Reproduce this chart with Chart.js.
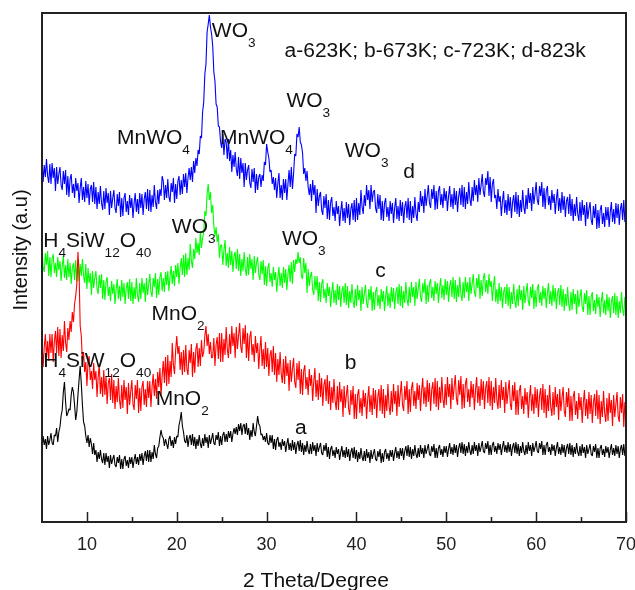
<!DOCTYPE html>
<html>
<head>
<meta charset="utf-8">
<script src="https://cdn.jsdelivr.net/npm/chart.js@4/dist/chart.umd.min.js"></script>
<style>
  body { margin: 0; background: #fff; }
  canvas { display: block; }
</style>
</head>
<body>
<canvas id="xrdChart" width="635" height="590"></canvas>
<script>
// scan: 5-70 deg, 0.125 deg step
const twoThetaStart = 5;
const twoThetaStep = 0.125;

// intensities (arbitrary units), one row = 1 degree
const sampleA = [
  74,86,77,83,73,86,77,82,
  89,79,77,87,86,94,80,90,
  95,106,112,130,140,120,106,109,
  113,112,127,135,130,117,102,110,
  127,142,156,138,117,100,96,86,
  79,87,75,84,78,68,79,67,
  72,60,70,63,72,63,59,69,
  57,69,60,66,54,67,58,63,
  67,57,55,65,59,67,53,63,
  53,63,66,56,62,54,65,58,
  65,54,62,68,58,65,57,68,
  61,69,57,66,71,61,72,60,
  72,60,70,63,77,68,64,74,
  76,85,92,86,84,76,83,78,
  73,83,86,76,82,74,85,78,
  86,85,97,102,110,96,90,81,
  79,87,75,84,87,77,88,76,
  85,73,83,76,87,78,74,84,
  76,88,79,85,74,87,78,83,
  89,79,77,87,82,90,76,86,
  77,87,90,80,88,80,91,84,
  91,80,88,94,88,95,87,98,
  91,99,87,96,98,88,99,87,
  94,82,92,85,99,90,86,96,
  106,98,96,87,88,82,86,80,
  89,79,77,87,79,87,73,83,
  72,82,85,75,80,72,83,76,
  81,70,78,84,72,79,71,82,
  72,80,68,77,81,71,82,70,
  79,67,77,70,81,72,68,78,
  68,80,71,77,66,79,70,75,
  79,69,67,77,71,79,65,75,
  63,73,76,66,72,64,75,68,
  73,62,70,76,65,72,64,75,
  65,73,61,70,74,64,75,63,
  72,60,70,63,74,65,61,71,
  61,73,64,70,59,72,63,68,
  73,63,61,71,65,73,59,69,
  60,70,73,63,69,61,72,65,
  72,61,69,75,64,71,63,74,
  66,74,62,71,76,66,77,65,
  75,63,73,66,77,68,64,74,
  65,77,68,74,64,77,68,73,
  78,68,66,76,70,78,64,74,
  64,74,77,67,73,65,76,69,
  76,65,73,79,68,75,67,78,
  69,77,65,74,79,69,80,68,
  78,66,76,69,80,71,67,77,
  68,80,71,77,66,79,70,75,
  81,71,69,79,73,81,67,77,
  67,77,80,70,76,68,79,72,
  78,67,75,81,70,77,69,80,
  70,78,66,75,79,69,80,68,
  78,66,76,69,80,71,67,77,
  68,80,71,77,66,79,70,75,
  81,71,69,79,73,81,67,77,
  67,77,80,70,75,67,78,71,
  77,66,74,80,68,75,67,78,
  69,77,65,74,78,68,79,67,
  77,65,75,68,79,70,66,76,
  66,78,69,75,64,77,68,73,
  78,68,66,76,70,78,64,74,
  64,74,77,67,73,65,76,69,
  75,64,72,78,67,74,66,77,
  68,76,64,73,77,67,78,66,
  70
];
const sampleB = [
  181,155,175,188,164,181,161,188,
  169,188,160,181,191,169,195,166,
  193,164,187,171,201,179,170,194,
  182,201,190,210,200,218,226,238,
  270,250,196,186,160,170,150,160,
  136,160,166,142,151,133,159,142,
  151,125,145,158,128,145,125,152,
  127,146,118,139,144,122,148,119,
  142,113,136,120,144,122,113,137,
  114,142,122,135,108,139,117,130,
  142,118,112,137,123,142,109,134,
  111,135,141,117,133,115,141,124,
  141,115,135,148,126,143,123,150,
  135,154,126,147,161,139,165,136,
  167,138,161,145,179,157,148,172,
  186,168,176,152,170,147,172,150,
  177,153,147,172,159,178,145,170,
  149,173,179,155,174,156,182,165,
  170,186,196,176,188,168,180,164,
  165,184,156,177,185,163,189,160,
  189,160,183,167,195,173,164,188,
  168,196,176,189,164,195,173,186,
  199,175,169,194,178,197,164,189,
  161,185,191,167,178,160,186,169,
  179,153,173,186,156,173,153,180,
  155,174,146,167,172,150,176,147,
  169,140,163,147,170,148,139,163,
  138,166,146,159,131,162,140,153,
  164,140,134,159,142,161,128,153,
  127,151,157,133,145,127,153,136,
  147,121,141,154,125,142,122,149,
  125,144,116,137,143,121,147,118,
  141,112,135,119,143,121,112,136,
  112,140,120,133,105,136,114,127,
  137,113,107,132,117,136,103,128,
  103,127,133,109,124,106,132,115,
  129,103,123,136,110,127,107,134,
  113,132,104,125,133,111,137,108,
  133,104,127,111,138,116,107,131,
  110,138,118,131,106,137,115,128,
  141,117,111,136,122,141,108,133,
  110,134,140,116,131,113,139,122,
  137,111,131,144,118,135,115,142,
  120,139,111,132,140,118,144,115,
  141,112,135,119,145,123,114,138,
  117,145,125,138,113,144,122,135,
  147,123,117,142,127,146,113,138,
  114,138,144,120,133,115,141,124,
  138,112,132,145,119,136,116,143,
  122,141,113,134,141,119,145,116,
  141,112,135,119,144,122,113,137,
  114,142,122,135,109,140,118,131,
  142,118,112,137,121,140,107,132,
  107,131,137,113,126,108,134,117,
  130,104,124,137,111,128,108,135,
  114,133,105,126,134,112,138,109,
  133,104,127,111,137,115,106,130,
  107,135,115,128,102,133,111,124,
  135,111,105,130,115,134,101,126,
  101,125,131,107,121,103,129,112,
  125,99,119,132,106,123,103,130,
  108,127,99,120,128,106,132,103,
  127,98,121,105,131,109,100,124,
  101,129,109,122,96,127,105,118,
  130,106,100,125,109,128,95,120,
  110
];
const sampleC = [
  273,255,250,269,257,271,246,265,
  245,263,268,249,259,245,265,252,
  261,241,256,266,244,257,242,263,
  245,259,238,254,259,242,262,240,
  263,241,258,246,263,246,239,258,
  233,254,239,249,227,251,234,244,
  251,233,228,247,234,248,223,242,
  222,240,245,226,235,221,241,228,
  238,218,233,243,223,236,221,242,
  225,239,218,234,240,223,243,221,
  240,218,235,223,244,227,220,239,
  223,244,229,239,220,244,227,237,
  248,230,225,244,235,249,224,243,
  227,245,250,231,244,230,250,237,
  251,231,246,256,238,251,236,257,
  245,259,238,254,264,247,267,245,
  269,247,264,252,278,261,254,273,
  263,284,269,279,267,291,274,284,
  290,311,306,328,338,322,330,309,
  317,296,286,295,280,288,264,277,
  277,257,272,282,256,269,254,275,
  257,271,250,266,270,253,273,251,
  268,246,263,251,270,253,246,265,
  247,268,253,263,242,266,249,259,
  265,247,242,261,248,262,237,256,
  236,254,259,240,249,235,255,242,
  250,230,245,255,236,249,234,255,
  239,253,232,248,257,240,260,238,
  262,250,263,258,270,259,265,246,
  243,264,249,259,229,253,236,246,
  250,232,227,246,232,246,221,240,
  220,238,243,224,233,219,239,226,
  235,215,230,240,219,232,217,238,
  222,236,215,231,236,219,239,217,
  236,214,231,219,238,221,214,233,
  216,237,222,232,211,235,218,228,
  237,219,214,233,222,236,211,230,
  212,230,235,216,227,213,233,220,
  231,211,226,236,216,229,214,235,
  220,234,213,229,235,218,238,216,
  236,214,231,219,240,223,216,235,
  219,240,225,235,216,240,223,233,
  243,225,220,239,229,243,218,237,
  220,238,243,224,235,221,241,228,
  239,219,234,244,224,237,222,243,
  227,241,220,236,242,225,245,223,
  242,220,237,225,245,228,221,240,
  224,245,230,240,221,245,228,238,
  248,230,225,244,234,248,223,242,
  226,244,249,230,242,228,248,235,
  241,221,236,246,220,233,218,239,
  221,235,214,230,235,218,238,216,
  235,213,230,218,238,221,214,233,
  216,237,222,232,212,236,219,229,
  239,221,216,235,224,238,213,232,
  215,233,238,219,230,216,236,223,
  234,214,229,239,218,231,216,237,
  220,234,213,229,234,217,237,215,
  233,211,228,216,235,218,211,230,
  212,233,218,228,208,232,215,225,
  233,215,210,229,218,232,207,226,
  207,225,230,211,222,208,228,215,
  225,205,220,230,209,222,207,228,
  211,225,204,220,226,209,229,207,
  226,204,221,209,230,213,206,225,
  214
];
const sampleD = [
  362,340,357,345,363,346,339,358,
  338,359,344,354,331,355,338,348,
  355,337,332,351,338,352,327,346,
  325,343,348,329,338,324,344,331,
  339,319,334,344,322,335,320,341,
  324,338,317,333,337,320,340,318,
  335,313,330,318,336,319,312,331,
  313,334,319,329,307,331,314,324,
  332,314,309,328,316,330,305,324,
  306,324,329,310,321,307,327,314,
  324,304,319,329,310,323,308,329,
  314,328,307,323,330,313,333,311,
  332,310,327,315,337,320,313,332,
  318,333,326,346,341,322,337,324,
  343,325,320,339,330,344,319,338,
  323,341,346,327,342,328,348,335,
  349,329,344,354,342,355,340,361,
  349,364,356,372,368,386,384,410,
  420,448,458,490,498,507,495,488,
  476,450,441,418,415,396,395,380,
  374,388,367,383,380,363,383,361,
  372,350,367,355,370,353,346,365,
  343,364,349,359,335,359,342,352,
  357,339,334,353,340,354,329,348,
  332,345,348,335,347,341,360,357,
  378,370,364,350,352,338,345,332,
  344,324,339,349,324,337,322,343,
  329,343,322,338,352,335,355,333,
  348,368,366,388,385,395,380,377,
  369,348,354,341,351,335,327,338,
  321,342,327,337,309,333,316,326,
  330,312,307,326,314,328,303,322,
  302,320,325,306,315,301,321,308,
  316,296,311,321,301,314,299,320,
  304,318,297,313,319,302,322,300,
  324,302,319,307,332,315,308,327,
  316,337,322,332,313,337,320,330,
  332,314,309,328,313,327,302,321,
  301,319,324,305,315,301,321,308,
  319,299,314,324,303,316,301,322,
  306,320,299,315,321,304,324,302,
  321,299,316,304,325,308,301,320,
  310,331,316,326,309,333,316,326,
  337,319,314,333,323,337,312,331,
  313,331,336,317,328,314,334,321,
  331,311,326,336,315,328,313,334,
  317,331,310,326,334,317,337,315,
  335,313,330,318,340,323,316,335,
  321,342,327,337,320,344,327,337,
  348,330,325,344,337,351,326,345,
  320,338,343,324,327,313,333,320,
  326,306,321,331,309,322,307,328,
  311,325,304,320,327,310,330,308,
  327,305,322,310,332,315,308,327,
  313,334,319,329,311,335,318,328,
  340,322,317,336,326,340,315,334,
  313,331,336,317,326,312,332,319,
  328,308,323,333,311,324,309,330,
  312,326,305,321,325,308,328,306,
  323,301,318,306,325,308,301,320,
  301,322,307,317,296,320,303,313,
  320,302,297,316,304,318,293,312,
  294,312,317,298,309,295,315,302,
  315,295,310,320,300,313,298,319,
  304,318,297,313,319,302,322,300,
  312
];

const seriesNames = ['a', 'b', 'c', 'd'];
const seriesColors = ['#000000', '#ff0000', '#00ff00', '#0000ff'];
const seriesWidths = [1.1, 1.1, 1.1, 1.1];
const xTickLabels = [10, 20, 30, 40, 50, 60, 70];
const xMinorTicks = [15, 25, 35, 45, 55, 65];

// peak / curve labels: [2theta of left edge, intensity of baseline, text]  (_n = subscript)
const peakLabels = [
  [23.9, 485, 'WO_3'],
  [32.0, 465, 'a-623K; b-673K; c-723K; d-823k'],
  [13.35, 378, 'MnWO_4'],
  [24.8, 378, 'MnWO_4'],
  [32.2, 415, 'WO_3'],
  [38.7, 365, 'WO_3'],
  [45.2, 344, 'd'],
  [5.15, 275, 'H_4SiW_12O_40'],
  [19.45, 289, 'WO_3'],
  [31.7, 277, 'WO_3'],
  [42.1, 245, 'c'],
  [17.2, 202, 'MnO_2'],
  [38.7, 153, 'b'],
  [5.15, 155, 'H_4SiW_12O_40'],
  [17.65, 117, 'MnO_2'],
  [33.15, 88, 'a']
];

const FONT = '"Liberation Sans", Arial, sans-serif';

function toPoints(values) {
  return values.map((v, i) => ({ x: twoThetaStart + i * twoThetaStep, y: v }));
}

function drawLabel(ctx, px, py, text) {
  const parts = text.split(/_(\d+)/);
  ctx.save();
  ctx.translate(px, py);
  ctx.scale(1.05, 1);
  let cx = 0;
  parts.forEach((p, i) => {
    const sub = i % 2 === 1;
    ctx.font = (sub ? 13 : 20) + 'px ' + FONT;
    ctx.fillText(p, cx, sub ? 10 : 0);
    cx += ctx.measureText(p).width;
  });
  ctx.restore();
}

const frameAndText = {
  id: 'frameAndText',
  afterDraw(chart) {
    const { ctx, chartArea: a, scales: { x, y } } = chart;
    ctx.save();
    ctx.strokeStyle = '#222';
    ctx.lineWidth = 2;
    ctx.strokeRect(a.left, a.top, a.right - a.left, a.bottom - a.top);

    // inward ticks on the bottom axis
    ctx.lineWidth = 1.5;
    ctx.beginPath();
    xTickLabels.forEach(v => {
      const px = Math.round(x.getPixelForValue(v)) + 0.5;
      ctx.moveTo(px, a.bottom);
      ctx.lineTo(px, a.bottom - 10);
    });
    xMinorTicks.forEach(v => {
      const px = Math.round(x.getPixelForValue(v)) + 0.5;
      ctx.moveTo(px, a.bottom);
      ctx.lineTo(px, a.bottom - 5);
    });
    ctx.stroke();

    ctx.fillStyle = '#111';
    ctx.textAlign = 'left';
    ctx.textBaseline = 'alphabetic';
    peakLabels.forEach(([lx, ly, t]) => {
      drawLabel(ctx, x.getPixelForValue(lx), y.getPixelForValue(ly), t);
    });

    // axis titles
    ctx.font = '20px ' + FONT;
    ctx.textAlign = 'center';
    ctx.save();
    ctx.translate(a.left + 274, a.bottom + 65);
    ctx.scale(1.05, 1);
    ctx.fillText('2 Theta/Degree', 0, 0);
    ctx.restore();

    ctx.save();
    ctx.translate(a.left - 21, a.top + 237);
    ctx.rotate(-Math.PI / 2);
    ctx.textBaseline = 'middle';
    ctx.fillText('Intensity (a.u)', 0, 0);
    ctx.restore();
    ctx.restore();
  }
};

const ctx = document.getElementById('xrdChart').getContext('2d');
const xrdChart = new Chart(ctx, {
  type: 'line',
  data: {
    datasets: [sampleA, sampleB, sampleC, sampleD].map((vals, i) => ({
      label: seriesNames[i],
      data: toPoints(vals),
      borderColor: seriesColors[i],
      borderWidth: seriesWidths[i],
      borderJoinStyle: 'bevel',
      pointRadius: 0,
      tension: 0,
      fill: false
    }))
  },
  options: {
    responsive: false,
    animation: false,
    layout: { padding: { top: 13, right: 9, left: 0, bottom: 0 } },
    plugins: { legend: { display: false }, tooltip: { enabled: false } },
    scales: {
      x: {
        type: 'linear',
        min: 5,
        max: 70,
        grid: { display: false, drawTicks: false },
        border: { display: false },
        afterBuildTicks: s => { s.ticks = xTickLabels.map(v => ({ value: v })); },
        afterFit: s => { s.height = 68; s.paddingLeft = 0; s.paddingRight = 0; },
        ticks: {
          color: '#222',
          padding: 12,
          maxRotation: 0,
          font: { family: FONT, size: 18 }
        }
      },
      y: {
        min: 0,
        max: 509,
        grid: { display: false },
        border: { display: false },
        ticks: { display: false },
        afterFit: s => { s.width = 42; }
      }
    }
  },
  plugins: [frameAndText]
});
</script>
</body>
</html>
